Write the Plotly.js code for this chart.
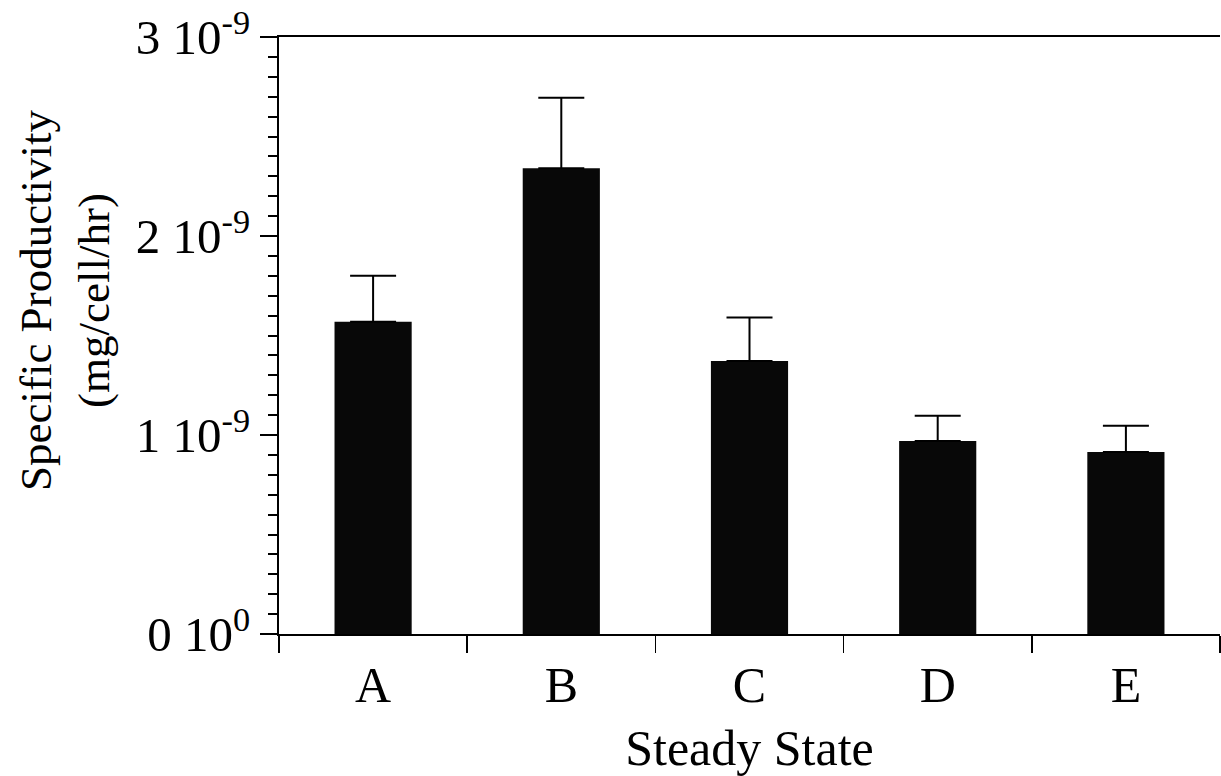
<!DOCTYPE html>
<html>
<head>
<meta charset="utf-8">
<script src="https://cdn.plot.ly/plotly-3.0.1.min.js"></script>
<style>html,body{margin:0;padding:0;background:#fff;}#chart{width:1221px;height:776px;}</style>
</head>
<body>
<div id="chart"></div>
<script>
const categories = ["A", "B", "C", "D", "E"];
const productivity = [1.569e-9, 2.340e-9, 1.372e-9, 0.970e-9, 0.915e-9];
const errorUpper = [0.231e-9, 0.355e-9, 0.219e-9, 0.127e-9, 0.132e-9];
const yTickVals = [0, 1e-9, 2e-9, 3e-9];
const yTickText = ["0 10<sup>0</sup>", "1 10<sup>-9</sup>", "2 10<sup>-9</sup>", "3 10<sup>-9</sup>"];
const xTitle = "Steady State";
const yTitle = "Specific Productivity<br>(mg/cell/hr)";

const font = "'Liberation Serif', 'Times New Roman', serif";

const trace = {
  type: "bar",
  x: categories,
  y: productivity,
  width: 0.41,
  marker: {color: "#080808", line: {width: 0}},
  error_y: {
    type: "data",
    symmetric: false,
    array: errorUpper,
    arrayminus: productivity.map(() => 0),
    color: "#000",
    thickness: 2,
    width: 23
  },
  hoverinfo: "none"
};

const layout = {
  width: 1221,
  height: 776,
  margin: {l: 279, r: 1, t: 37, b: 142},
  paper_bgcolor: "#fff",
  plot_bgcolor: "#fff",
  showlegend: false,
  font: {family: font, color: "#000"},
  xaxis: {
    type: "category",
    range: [-0.5, 4.5],
    showline: true,
    linecolor: "#000",
    linewidth: 2,
    mirror: true,
    ticks: "outside",
    tickson: "boundaries",
    ticklen: 17,
    tickwidth: 1.5,
    tickcolor: "#000",
    ticklabelstandoff: 6,
    showgrid: false,
    zeroline: false,
    tickfont: {family: font, size: 50, color: "#000"},
    title: {text: xTitle, font: {family: font, size: 50, color: "#000"}, standoff: 28}
  },
  yaxis: {
    range: [0, 3e-9],
    tickvals: yTickVals,
    ticktext: yTickText,
    showline: true,
    linecolor: "#000",
    linewidth: 2,
    ticks: "outside",
    ticklen: 17,
    tickwidth: 2,
    tickcolor: "#000",
    minor: {dtick: 1e-10, ticks: "outside", ticklen: 9, tickwidth: 2, tickcolor: "#000", showgrid: false},
    showgrid: false,
    zeroline: false,
    tickfont: {family: font, size: 49, color: "#000"}
  },
  annotations: [{
    text: yTitle,
    xref: "paper", yref: "paper",
    x: -0.227, y: 0.56,
    xanchor: "center", yanchor: "middle",
    textangle: -90,
    showarrow: false,
    font: {family: font, size: 45, color: "#000"}
  }]
};

Plotly.newPlot("chart", [trace], layout, {displayModeBar: false, staticPlot: true});
</script>
</body>
</html>
